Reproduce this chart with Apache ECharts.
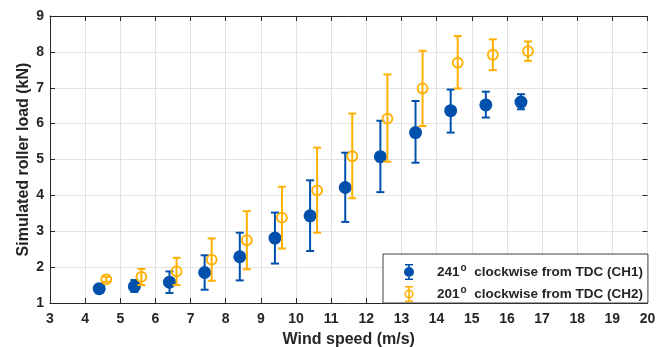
<!DOCTYPE html>
<html><head><meta charset="utf-8">
<script src="https://cdn.jsdelivr.net/npm/echarts@6/dist/echarts.min.js"></script>
<style>html,body{margin:0;padding:0;background:#fff}#c{width:670px;height:347px}</style>
</head><body><div id="c"></div>
<script>
const xCH1 = [4.4,5.4,6.4,7.4,8.4,9.4,10.4,11.4,12.4,13.4,14.4,15.4,16.4];
const meanCH1 = [1.40,1.46,1.58,1.85,2.29,2.81,3.43,4.22,5.08,5.75,6.36,6.52,6.60];
const lowCH1  = [1.36,1.31,1.28,1.37,1.63,2.10,2.45,3.26,4.09,4.91,5.75,6.17,6.40];
const highCH1 = [1.44,1.64,1.88,2.33,2.96,3.52,4.42,5.19,6.08,6.63,6.95,6.89,6.82];
const xCH2 = [4.6,5.6,6.6,7.6,8.6,9.6,10.6,11.6,12.6,13.6,14.6,15.6,16.6];
const meanCH2 = [1.66,1.73,1.88,2.21,2.75,3.38,4.14,5.09,6.14,6.98,7.70,7.92,8.02];
const lowCH2  = [1.59,1.50,1.50,1.62,1.94,2.52,2.96,3.92,4.94,5.93,6.98,7.49,7.75];
const highCH2 = [1.73,1.95,2.26,2.80,3.56,4.24,5.33,6.28,7.37,8.03,8.44,8.35,8.29];
const nameCH1 = '241° clockwise from TDC (CH1)';
const nameCH2 = '201° clockwise from TDC (CH2)';
const xTitle = 'Wind speed (m/s)';
const yTitle = 'Simulated roller load (kN)';

const BLUE = '#0050AC';
const ORANGE = '#FFB000';
const FONT = '"Liberation Sans", Arial, sans-serif';
const TXT = '#262626';

function errBar(color) {
  return function (params, api) {
    const x = api.value(0), lo = api.value(1), hi = api.value(2);
    const a = api.coord([x, lo]), b = api.coord([x, hi]);
    const hw = 4;
    const st = { stroke: color, lineWidth: 2 };
    return { type: 'group', children: [
      { type: 'line', shape: { x1: a[0], y1: a[1], x2: b[0], y2: b[1] }, style: st },
      { type: 'line', shape: { x1: a[0]-hw, y1: a[1], x2: a[0]+hw, y2: a[1] }, style: st },
      { type: 'line', shape: { x1: b[0]-hw, y1: b[1], x2: b[0]+hw, y2: b[1] }, style: st }
    ]};
  };
}

const iconCH1 = 'path://M-0.8,-8 h1.6 v16 h-1.6 z M-4,-8 h8 v1.6 h-8 z M-4,6.4 h8 v1.6 h-8 z M0,-5 A5,5 0 1,1 0,5 A5,5 0 1,1 0,-5 Z';
const iconCH2 = 'path://M-0.8,-8 h1.6 v16 h-1.6 z M-4,-8 h8 v1.6 h-8 z M-4,6.4 h8 v1.6 h-8 z M0,-4.5 A4.5,4.5 0 1,1 0,4.5 A4.5,4.5 0 1,1 0,-4.5 Z M0,-3 A3,3 0 1,0 0,3 A3,3 0 1,0 0,-3 Z';

const chart = echarts.init(document.getElementById('c'), null, { renderer: 'canvas' });
const axisCommon = {
  type: 'value',
  axisTick: { show: true, inside: true, length: 5, lineStyle: { color: TXT, width: 1 } },
  splitLine: { show: false },
  axisLabel: { show: false }
};
chart.setOption({
  animation: false,
  backgroundColor: '#fff',
  grid: { left: 50, right: 22.5, top: 16, bottom: 44, containLabel: false, outerBoundsMode: 'none' },
  xAxis: [
    Object.assign({}, axisCommon, {
      min: 3, max: 20, interval: 1, position: 'bottom',
      name: xTitle, nameLocation: 'middle', nameGap: 29, nameMoveOverlap: false,
      nameTextStyle: { fontFamily: FONT, fontWeight: 'bold', fontSize: 16, color: TXT },
      axisLine: { show: true, lineStyle: { color: TXT, width: 1 } },
      axisLabel: { show: true, margin: 9, fontFamily: FONT, fontWeight: 'bold', fontSize: 14, color: TXT },
      splitLine: { show: true, lineStyle: { color: '#e3e3e3', width: 1 } }
    }),
    Object.assign({}, axisCommon, {
      min: 3, max: 20, interval: 1, position: 'top',
      axisLine: { show: true, lineStyle: { color: TXT, width: 1 } }
    })
  ],
  yAxis: [
    Object.assign({}, axisCommon, {
      min: 1, max: 9, interval: 1, position: 'left',
      name: yTitle, nameLocation: 'middle', nameGap: 18, nameMoveOverlap: false,
      nameTextStyle: { fontFamily: FONT, fontWeight: 'bold', fontSize: 16, color: TXT },
      axisLine: { show: true, lineStyle: { color: TXT, width: 1 } },
      axisLabel: { show: true, margin: 6, fontFamily: FONT, fontWeight: 'bold', fontSize: 14, color: TXT },
      splitLine: { show: true, lineStyle: { color: '#e3e3e3', width: 1 } }
    }),
    Object.assign({}, axisCommon, {
      min: 1, max: 9, interval: 1, position: 'right',
      axisLine: { show: false }
    })
  ],
  legend: {
    orient: 'vertical',
    left: 383, top: 254,
    padding: [9, 5, 0, 21],
    itemGap: 4,
    itemWidth: 10, itemHeight: 16,
    backgroundColor: '#fff',
    borderColor: '#404040', borderWidth: 1, borderRadius: 0,
    data: [
      { name: nameCH1, icon: iconCH1, itemStyle: { color: BLUE, borderWidth: 0, opacity: 1 } },
      { name: nameCH2, icon: iconCH2, itemStyle: { color: ORANGE, borderWidth: 0, opacity: 1 } }
    ],
    formatter: function (n) {
      const num = n.slice(0, 3);
      const rest = n.slice(4);
      return '{a|' + num + '}{s|o}{a| ' + rest + '}';
    },
    textStyle: {
      rich: {
        a: { fontFamily: FONT, fontWeight: 'bold', fontSize: 13.5, color: TXT, lineHeight: 16 },
        s: { fontFamily: FONT, fontWeight: 'bold', fontSize: 10, color: TXT, lineHeight: 16, padding: [0, 0, 8, 1] }
      },
      padding: [0, 0, 0, 18]
    }
  },
  series: [
    {
      type: 'custom', name: 'err1', z: 2,
      renderItem: errBar(BLUE),
      data: xCH1.map((x, i) => [x, lowCH1[i], highCH1[i]]),
      encode: { x: 0, y: [1, 2] }
    },
    {
      type: 'scatter', name: nameCH1, z: 3,
      symbol: 'circle', symbolSize: 13,
      itemStyle: { color: BLUE, opacity: 1 },
      data: xCH1.map((x, i) => [x, meanCH1[i]])
    },
    {
      type: 'custom', name: 'err2', z: 4,
      renderItem: errBar(ORANGE),
      data: xCH2.map((x, i) => [x, lowCH2[i], highCH2[i]]),
      encode: { x: 0, y: [1, 2] }
    },
    {
      type: 'scatter', name: nameCH2, z: 5,
      symbol: 'circle', symbolSize: 10,
      itemStyle: { color: 'rgba(0,0,0,0)', borderColor: ORANGE, borderWidth: 1.8, opacity: 1 },
      data: xCH2.map((x, i) => [x, meanCH2[i]])
    }
  ]
});
</script></body></html>
